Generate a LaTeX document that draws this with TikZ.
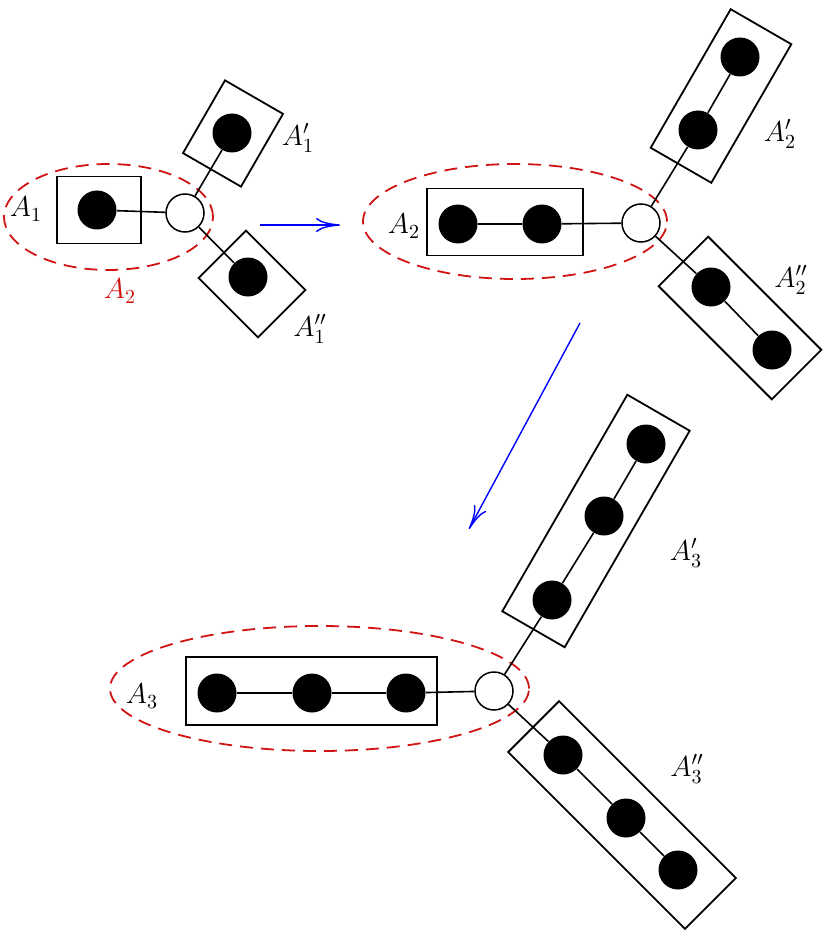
\documentclass[tikz,border=0pt]{standalone}
\usetikzlibrary{arrows.meta,shapes.geometric}
\definecolor{ellred}{RGB}{208,20,20}
\begin{document}
\begin{tikzpicture}[x=0.5pt,y=-0.5pt,
  dot/.style={circle,fill=black,inner sep=0pt,minimum size=19.5pt},
  hub/.style={circle,draw,fill=white,line width=0.75pt,inner sep=0pt,minimum size=19pt},
  grp/.style={draw,line width=0.9pt,inner sep=0pt,minimum height=33.5pt},
  ell/.style={ellipse,draw=ellred,dash pattern=on 6.5pt off 4pt,line width=0.9pt,inner sep=0pt},
  link/.style={line width=0.8pt},
  flow/.style={blue,line width=0.7pt,-{To[length=12pt,width=7pt]}},
  lab/.style={inner sep=0pt,font=\fontsize{14.4}{17}\selectfont}]
\useasboundingbox (0,0) rectangle (830,941);

% ---------- ellipses ----------
\node[ell,minimum width=104.5pt,minimum height=53pt] (E1) at (108.5,217) {};
\node[ell,minimum width=152pt,minimum height=57.5pt] (E2) at (515,221.5) {};
\node[ell,minimum width=209.5pt,minimum height=62.5pt] (E3) at (319.5,688.5) {};

% ---------- group 1 ----------
\node[grp,minimum width=42pt] (B1) at (99,210) {};
\node[grp,minimum width=42pt,rotate=60] (B1u) at (233,133.5) {};
\node[grp,minimum width=42pt,rotate=-45] (B1l) at (252,284) {};
\node[dot] (d11) at (97,210) {};
\node[dot] (u11) at (232,133) {};
\node[dot] (l11) at (248,277) {};
\node[hub] (w1) at (185,213) {};
\draw[link] (d11) -- (w1);
\draw[link] (w1) -- (u11);
\draw[link] (w1) -- (l11);

% ---------- group 2 ----------
\node[grp,minimum width=78pt] (B2) at (505,222) {};
\node[grp,minimum width=80pt,minimum height=35pt,rotate=60] (B2u) at (721,96) {};
\node[grp,minimum width=80pt,minimum height=35pt,rotate=-45] (B2l) at (740,318) {};
\node[dot] (d21) at (458,224) {};
\node[dot] (d22) at (542,224) {};
\node[dot] (u21) at (698,130) {};
\node[dot] (u22) at (740,57) {};
\node[dot] (l21) at (711,287) {};
\node[dot] (l22) at (772,350) {};
\node[hub] (w2) at (641,223) {};
\draw[link] (d21) -- (d22) -- (w2);
\draw[link] (w2) -- (u21) -- (u22);
\draw[link] (w2) -- (l21) -- (l22);

% ---------- group 3 ----------
\node[grp,minimum width=125.5pt,minimum height=34pt] (B3) at (311.5,691) {};
\node[grp,minimum width=125pt,minimum height=36pt,rotate=60] (B3u) at (596,521) {};
\node[grp,minimum width=125pt,minimum height=36pt,rotate=-45] (B3l) at (622,815) {};
\node[dot] (d31) at (217,693) {};
\node[dot] (d32) at (312,693) {};
\node[dot] (d33) at (406,693) {};
\node[dot] (u31) at (552,600) {};
\node[dot] (u32) at (604,516) {};
\node[dot] (u33) at (646,444) {};
\node[dot] (l31) at (563,755) {};
\node[dot] (l32) at (626,818) {};
\node[dot] (l33) at (678,870) {};
\node[hub] (w3) at (494,691) {};
\draw[link] (d31) -- (d32) -- (d33) -- (w3);
\draw[link] (w3) -- (u31) -- (u32) -- (u33);
\draw[link] (w3) -- (l31) -- (l32) -- (l33);

% ---------- labels ----------
\node[lab] (tA1) at (26,209) {$A_1$};
\node[lab] (tA1p) at (298,138) {$A_1'$};
\node[lab] (tA1pp) at (310,329) {$A_1''$};
\node[lab,text=ellred] (tA2r) at (120,291) {$A_2$};
\node[lab] (tA2) at (404,226) {$A_2$};
\node[lab] (tA2p) at (780,134) {$A_2'$};
\node[lab] (tA2pp) at (791,280) {$A_2''$};
\node[lab] (tA3) at (142,696) {$A_3$};
\node[lab] (tA3p) at (686,553) {$A_3'$};
\node[lab] (tA3pp) at (687,769) {$A_3''$};

% ---------- arrows ----------
\coordinate (a1s) at (260,225);
\coordinate (a1e) at (340,225);
\coordinate (a2s) at (580,323);
\coordinate (a2e) at (469,529);
\draw[flow] (a1s) -- (a1e);
\draw[flow] (a2s) -- (a2e);
\end{tikzpicture}
\end{document}
